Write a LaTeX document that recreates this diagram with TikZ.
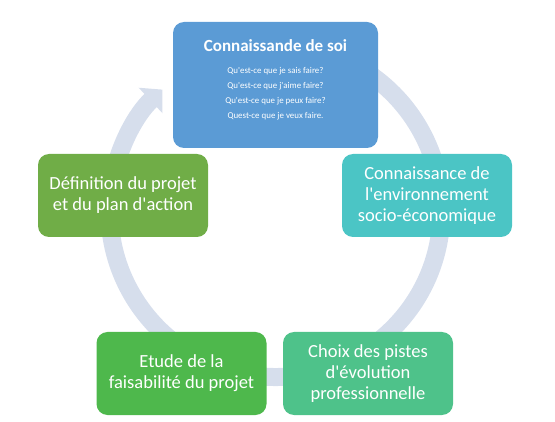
\documentclass[tikz,border=0pt]{standalone}
\usepackage{fontspec}
\setmainfont{Carlito}[Ligatures=TeXOff]
\usetikzlibrary{arrows.meta}
\definecolor{bleu}{RGB}{91,155,213}
\definecolor{vertprojet}{RGB}{112,173,71}
\definecolor{turquoise}{RGB}{75,197,197}
\definecolor{vertpistes}{RGB}{78,194,138}
\definecolor{vertetude}{RGB}{78,184,76}
\definecolor{anneau}{RGB}{214,222,236}
\begin{document}
\begin{tikzpicture}[x=1pt, y=1pt,
    boite/.style={rounded corners=11pt, text=white, align=center,
        minimum width=170pt, minimum height=83pt,
        font=\fontsize{18.5}{21}\selectfont}]
    \useasboundingbox (0,0) rectangle (555,421);
    \coordinate (centre) at (275.5,210);
    \draw[line width=18pt, color=anneau, -{Triangle[width=34pt,length=16pt]}]
        (centre) ++(80:166pt) arc[start angle=80, end angle=-227, radius=166pt];
    \draw (275.5,336) node[boite, fill=bleu, minimum width=205pt, minimum height=126pt](soi){};
    \draw (soi.center) ++(0,5) node[align=center, text=white, font=\fontsize{8.9}{15}\selectfont](soitxt){
        {\bfseries\fontsize{17}{20}\selectfont Connaissande de soi}\\[7pt]
        Qu'est-ce que je sais faire?\\
        Qu'est-ce que j'aime faire?\\
        Qu'est-ce que je peux faire?\\
        Quest-ce que je veux faire.
    };
    \draw (427,225.5) node[boite, fill=turquoise](envt){
        Connaissance de\\ l'environnement\\ socio-économique
    };
    \draw (368,47.5) node[boite, fill=vertpistes](pistes){
        Choix des pistes\\ d'évolution\\ professionnelle
    };
    \draw (181.5,47.5) node[boite, fill=vertetude](etude){
        Etude de la\\ faisabilité du projet
    };
    \draw (123,225.5) node[boite, fill=vertprojet](projet){
        Définition du projet\\ et du plan d'action
    };
\end{tikzpicture}
\end{document}
